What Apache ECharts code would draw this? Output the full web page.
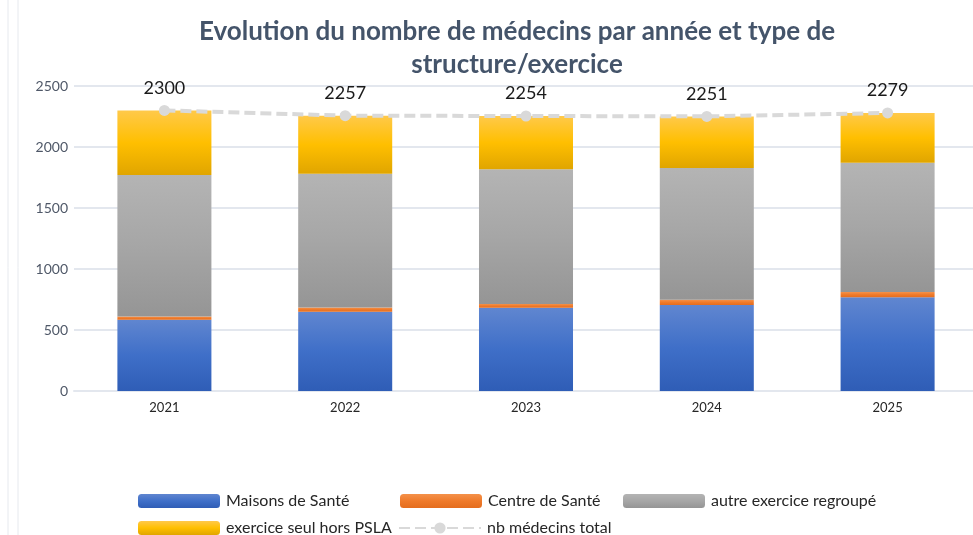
<!DOCTYPE html>
<html>
<head>
<meta charset="utf-8">
<script src="https://cdn.jsdelivr.net/npm/echarts@6/dist/echarts.min.js"></script>
<style>
  html, body { margin: 0; padding: 0; background: #fff; }
  #main { width: 973px; height: 535px; }
</style>
</head>
<body>
<div id="main"></div>
<script>
var years = ['2021', '2022', '2023', '2024', '2025'];
var maisonsSante = [585, 650, 683, 705, 768];
var centreSante = [25, 35, 30, 43, 43];
var autreRegroupe = [1160, 1095, 1104, 1080, 1060];
var exerciceSeul = [530, 477, 437, 423, 408];
var totalMedecins = [2300, 2257, 2254, 2251, 2279];
var yTicks = [0, 500, 1000, 1500, 2000, 2500];

var chart = echarts.init(document.getElementById('main'));

function grad(top, mid, bottom) {
    return new echarts.graphic.LinearGradient(0, 0, 0, 1, [
        { offset: 0, color: top },
        { offset: 0.5, color: mid },
        { offset: 1, color: bottom }
    ]);
}

var font = 'Lato, "Open Sans", sans-serif';
var legendText = { fontFamily: font, fontSize: 16, color: '#262626', padding: [0, 0, 0, 1] };

function legend(name, left, top) {
    return {
        data: [name], left: left, top: top, itemWidth: 82, itemHeight: 14,
        itemGap: 4, padding: 0, textStyle: legendText, selectedMode: false
    };
}

var option = {
    backgroundColor: '#fff',
    title: {
        text: 'Evolution du nombre de médecins par année et type de\nstructure/exercice',
        left: 512, textAlign: 'center', top: 10,
        textStyle: { fontFamily: font, fontSize: 26, fontWeight: 'bold', color: '#44546a', lineHeight: 33 }
    },
    graphic: [
        { type: 'line', shape: { x1: 8, y1: 0, x2: 8, y2: 535 }, style: { stroke: '#e6e9ee', lineWidth: 1 } },
        { type: 'line', shape: { x1: 18, y1: 0, x2: 18, y2: 535 }, style: { stroke: '#e6e9ee', lineWidth: 1 } }
    ],
    legend: [
        legend('Maisons de Santé', 138, 493),
        legend('Centre de Santé', 400, 493),
        legend('autre exercice regroupé', 623, 493),
        legend('exercice seul hors PSLA', 138, 520),
        legend('nb médecins total', 398, 520)
    ],
    grid: { left: 74, width: 904, top: 86, height: 305, outerBoundsMode: 'none' },
    xAxis: {
        type: 'category',
        data: years,
        axisTick: { show: false },
        axisLine: { lineStyle: { color: '#e3e7ee', width: 2 } },
        axisLabel: { fontFamily: font, fontSize: 13, color: '#262626', margin: 10 }
    },
    yAxis: {
        type: 'value',
        min: yTicks[0], max: yTicks[yTicks.length - 1], interval: 500,
        axisLine: { show: false },
        axisTick: { show: false },
        splitLine: { lineStyle: { color: '#e3e7ee', width: 2 } },
        axisLabel: {
            fontFamily: font, fontSize: 14, color: '#4f5868', margin: 6,
            formatter: function (v) { return String(v); }
        }
    },
    series: [
        {
            name: 'Maisons de Santé', type: 'bar', stack: 'a', barWidth: '52%',
            data: maisonsSante,
            itemStyle: { color: grad('#6086d0', '#3f6fc8', '#2f5db6') }
        },
        {
            name: 'Centre de Santé', type: 'bar', stack: 'a',
            data: centreSante,
            itemStyle: { color: grad('#f4914a', '#ef7a2a', '#e46d1e') }
        },
        {
            name: 'autre exercice regroupé', type: 'bar', stack: 'a',
            data: autreRegroupe,
            itemStyle: { color: grad('#b4b4b4', '#a6a6a6', '#959595') }
        },
        {
            name: 'exercice seul hors PSLA', type: 'bar', stack: 'a',
            data: exerciceSeul,
            itemStyle: { color: grad('#ffc94a', '#ffbf00', '#e0a500') }
        },
        {
            name: 'nb médecins total', type: 'line',
            data: totalMedecins,
            symbol: 'circle', symbolSize: 11, z: 5,
            lineStyle: { color: '#d9d9d9', width: 4, type: [11, 5] },
            itemStyle: { color: '#d9d9d9' },
            label: {
                show: true, position: 'top', distance: 8,
                fontFamily: font, fontSize: 18, color: '#1a1a1a'
            }
        }
    ]
};

chart.setOption(option);
</script>
</body>
</html>
